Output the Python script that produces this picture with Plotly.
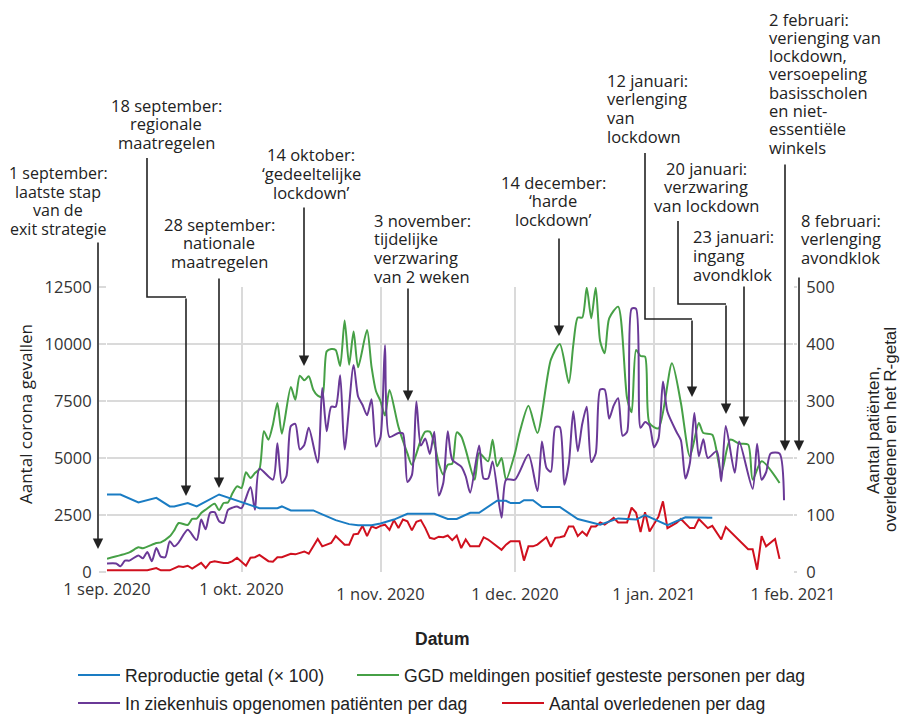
import plotly.graph_objects as go
import pandas as pd

START = pd.Timestamp("2020-09-01")

# ---- data (day offset from 1 Sep 2020, value) ----
# Reproductie getal x 100 (right axis)
r_days = [0, 3, 7, 11, 14, 15, 18, 20, 25, 34,
          38, 39, 41, 46, 48, 51, 54, 56, 59, 61,
          64, 67, 73, 76, 78, 81, 83, 87, 89, 90,
          92, 93, 95, 97, 101, 105, 110, 113, 114, 118,
          120, 125, 129, 135]
r_vals = [136, 136, 122, 130, 115, 115, 121, 115, 136, 112,
          112, 115, 108, 108, 101, 91, 84, 82, 82, 85,
          92, 102, 102, 93, 93, 104, 104, 125, 125, 121,
          121, 126, 126, 114, 114, 93, 83, 92, 94, 92,
          100, 82, 96, 95]

# GGD meldingen positief geteste personen per dag (left axis)
ggd_days = [0, 5, 7, 8, 11, 12, 14, 15, 16, 18,
            19, 20, 21, 22, 24, 25, 26, 27, 28, 29,
            30, 31, 32, 33, 34, 35, 36, 37, 38, 39,
            41, 42, 43, 44, 45, 46, 47, 48, 49, 50,
            51, 52, 53, 54, 55, 56, 58, 59, 60, 61,
            62, 63, 65, 67, 68, 70, 71, 72, 73, 74,
            75, 76, 77, 78, 79, 80, 82, 83, 85, 86,
            87, 88, 89, 91, 92, 94, 96, 99, 101, 103,
            104, 105, 106, 107, 108, 109, 110, 111, 112, 114,
            116, 117, 118, 119, 120, 121, 123, 126, 128, 130,
            132, 133, 135, 137, 139, 141, 143, 144, 146, 150]
ggd_vals = [585, 863, 1082, 1038, 1272, 1301, 1564, 1828, 2149, 2061,
            2325, 2340, 2588, 2734, 2997, 2705, 3026, 3055, 3465, 3757,
            3684, 4371, 4123, 4342, 4518, 6170, 5804, 6462, 7412, 6067,
            8114, 7558, 8611, 8406, 8582, 7997, 7734, 7676, 9678, 9780,
            9737, 9035, 11027, 9088, 10546, 8977, 10610, 9000, 7930, 7493,
            6861, 7983, 6370, 5200, 4700, 5790, 6155, 6155, 5643, 4750,
            4269, 4708, 4750, 6126, 5950, 5366, 4050, 5219, 4854, 5804,
            4635, 5000, 4050, 5219, 6097, 7295, 6097, 9313, 10000, 8290,
            9960, 11160, 11160, 12470, 11126, 12470, 10107, 9590, 11126, 11638,
            7618, 7004, 9737, 9474, 9444, 6522, 6302, 9152, 7412, 5073,
            6535, 6097, 6023, 4342, 5804, 5629, 5585, 4050, 4854, 3903]

# In ziekenhuis opgenomen patienten per dag (right axis)
zkh_days = [0, 2, 3, 4, 5, 7, 8, 9, 10, 11,
            12, 13, 14, 15, 16, 18, 20, 21, 22, 23,
            24, 25, 26, 27, 28, 29, 30, 32, 33, 34,
            37, 38, 39, 40, 41, 42, 43, 44, 45, 47,
            48, 49, 50, 51, 52, 53, 55, 56, 57, 58,
            59, 60, 61, 62, 63, 65, 66, 67, 68, 69,
            70, 71, 72, 73, 74, 75, 76, 77, 79, 80,
            81, 83, 84, 85, 86, 88, 89, 91, 94, 96,
            97, 98, 99, 100, 101, 102, 103, 104, 105, 106,
            107, 108, 109, 110, 111, 112, 113, 114, 115, 116,
            117, 118, 119, 120, 121, 122, 123, 124, 125, 127,
            128, 129, 130, 131, 132, 133, 134, 136, 137, 138,
            140, 141, 144, 145, 146, 147, 148, 150, 151]
zkh_vals = [15, 15, 10, 20, 20, 29, 24, 35, 19, 42,
            27, 26, 54, 45, 52, 74, 56, 92, 75, 104,
            105, 89, 86, 109, 113, 115, 112, 149, 109, 181,
            162, 226, 156, 168, 256, 260, 215, 223, 253, 192,
            323, 247, 290, 290, 345, 215, 363, 308, 293, 275,
            303, 220, 237, 398, 237, 244, 243, 158, 170, 299,
            222, 234, 207, 246, 134, 156, 247, 197, 185, 168,
            139, 222, 164, 164, 194, 95, 162, 162, 206, 142,
            229, 183, 176, 254, 254, 153, 190, 282, 212, 260,
            290, 193, 208, 320, 320, 269, 292, 305, 239, 246,
            462, 462, 253, 263, 257, 219, 234, 334, 281, 246,
            231, 164, 191, 279, 203, 233, 200, 212, 159, 256,
            174, 229, 146, 225, 162, 175, 208, 208, 126]

# Aantal overledenen per dag (right axis)
ovl_days = [0, 9, 11, 12, 14, 16, 17, 18, 19, 21,
            22, 23, 24, 26, 27, 28, 29, 31, 32, 33,
            34, 36, 37, 38, 39, 41, 42, 44, 45, 47,
            48, 50, 51, 53, 54, 55, 56, 57, 58, 59,
            60, 61, 62, 63, 64, 65, 66, 67, 68, 69,
            70, 71, 72, 73, 74, 75, 76, 77, 78, 79,
            80, 81, 83, 84, 85, 86, 88, 89, 90, 92,
            93, 94, 95, 96, 98, 99, 100, 101, 102, 103,
            104, 105, 106, 107, 108, 109, 110, 111, 113, 114,
            116, 117, 118, 119, 120, 121, 123, 124, 125, 127,
            128, 130, 131, 132, 134, 135, 137, 138, 143, 144,
            145, 146, 147, 149, 150]
ovl_vals = [3, 3, 7, 3, 3, 10, 9, 11, 6, 16,
            7, 17, 19, 16, 16, 19, 25, 11, 25, 26,
            30, 19, 18, 26, 26, 32, 31, 36, 32, 58,
            45, 51, 63, 48, 48, 66, 67, 81, 63, 80,
            77, 81, 83, 74, 91, 77, 92, 89, 73, 88,
            91, 77, 60, 58, 62, 61, 64, 56, 64, 42,
            57, 45, 45, 61, 57, 51, 39, 48, 54, 54,
            20, 45, 45, 48, 61, 44, 60, 61, 63, 80,
            80, 63, 71, 64, 80, 80, 87, 83, 95, 87,
            87, 113, 104, 70, 105, 71, 97, 124, 77, 86,
            93, 77, 77, 93, 77, 81, 57, 79, 40, 40,
            4, 63, 45, 58, 23]

tick_dates = ["2020-09-01", "2020-10-01", "2020-11-01", "2020-12-01", "2021-01-01", "2021-02-01"]
tick_text = ["1 sep. 2020", "1 okt. 2020", "1 nov. 2020", "1 dec. 2020", "1 jan. 2021", "1 feb. 2021"]
left_ticks = [0, 2500, 5000, 7500, 10000, 12500]
right_ticks = [0, 100, 200, 300, 400, 500]

names = ["Reproductie getal (× 100)",
         "GGD meldingen positief gesteste personen per dag",
         "In ziekenhuis opgenomen patiënten per dag",
         "Aantal overledenen per dag"]
colors = ["#1a7cc3", "#46a046", "#6a3997", "#d0101e"]

callouts = [
    dict(lines=["1 september:", "laatste stap", "van de", "exit strategie"], x=58, anchor="center", y0=173,
         path=[(98, 241)], tip=(98, 549), size=16),
    dict(lines=["18 september:", "regionale", "maatregelen"], x=166, anchor="center", y0=105,
         path=[(147, 158), (147, 297), (186, 297)], tip=(186, 496)),
    dict(lines=["28 september:", "nationale", "maatregelen"], x=219, anchor="center", y0=224,
         path=[(219, 277)], tip=(219, 488)),
    dict(lines=["14 oktober:", "‘gedeeltelijke", "lockdown’"], x=311, anchor="center", y0=155,
         path=[(304, 206)], tip=(304, 366)),
    dict(lines=["3 november:", "tijdelijke", "verzwaring", "van 2 weken"], x=372, anchor="left", y0=220,
         path=[(408, 287)], tip=(408, 401)),
    dict(lines=["14 december:", "‘harde", "lockdown’"], x=553, anchor="center", y0=182,
         path=[(559, 237)], tip=(559, 336)),
    dict(lines=["12 januari:", "verlenging", "van", "lockdown"], x=605, anchor="left", y0=80,
         path=[(645, 153), (645, 319), (692, 319)], tip=(692, 397)),
    dict(lines=["20 januari:", "verzwaring", "van lockdown"], x=706, anchor="center", y0=168,
         path=[(678, 221), (678, 304), (726, 304)], tip=(726, 414)),
    dict(lines=["23 januari:", "ingang", "avondklok"], x=691, anchor="left", y0=237,
         path=[(744, 285)], tip=(744, 427)),
    dict(lines=["2 februari:", "verienging van", "lockdown,", "versoepeling", "basisscholen",
                "en niet-", "essentiële", "winkels"], x=767, anchor="left", y0=19, ls=18.3,
         path=[(785, 163)], tip=(785, 451)),
    dict(lines=["8 februari:", "verlenging", "avondklok"], x=799, anchor="left", y0=220,
         path=[(799, 276)], tip=(799, 451)),
]

# ---- layout geometry (page shows the figure offset by the 8px body margin) ----
OFF = 8
W, H = 909 - OFF, 717 - OFF
PW, PH = 686, 285
ML, MT = 107 - OFF, 287 - OFF
MR, MB = W - ML - PW, H - MT - PH


def fx(px):
    return (px - OFF - ML) / PW


def fy(py):
    return (H - MB - (py - OFF)) / PH


def to_dates(days):
    return [(START + pd.Timedelta(days=int(d))).strftime("%Y-%m-%d") for d in days]


FONT = "Open Sans"
TXT = "#222222"
GRID = "#dadada"

fig = go.Figure()
series = [
    (r_days, r_vals, "x2", "y2", "legend", "linear"),
    (ggd_days, ggd_vals, "x", "y", "legend2", "spline"),
    (zkh_days, zkh_vals, "x", "y2", "legend3", "spline"),
    (ovl_days, ovl_vals, "x", "y2", "legend4", "linear"),
]
for (d, v, xa, ya, lg, shp), nm, col in zip(series, names, colors):
    line = dict(color=col, width=2, shape=shp)
    if shp == "spline":
        line["smoothing"] = 0.7
    fig.add_trace(go.Scatter(x=to_dates(d), y=v, mode="lines", name=nm, xaxis=xa, yaxis=ya,
                             legend=lg, line=line, hoverinfo="skip"))

# callout texts and arrows
annotations = []
shapes = []
for c in callouts:
    ls = c.get("ls", 18.7)
    for i, t in enumerate(c["lines"]):
        annotations.append(dict(x=fx(c["x"]), y=fy(c["y0"] + i * ls), xref="paper", yref="paper",
                                text=t, showarrow=False, xanchor=c["anchor"], yanchor="middle",
                                font=dict(family=FONT, size=c.get("size", 16.5), color=TXT)))
    pts = c["path"]
    if len(pts) > 1:
        d = "M " + " L ".join(f"{fx(px)},{fy(py)}" for px, py in pts)
        shapes.append(dict(type="path", path=d, xref="paper", yref="paper",
                           line=dict(color=TXT, width=1.6)))
    sx, sy = pts[-1]
    tx, ty = c["tip"]
    annotations.append(dict(x=fx(tx), y=fy(ty), xref="paper", yref="paper", text="",
                            showarrow=True, ax=0, ay=sy - ty, axref="pixel", ayref="pixel",
                            arrowhead=2, arrowsize=1.3, arrowwidth=1.6, arrowcolor=TXT,
                            standoff=0, startstandoff=0))

# axis titles
annotations.append(dict(x=fx(25), y=fy(414), xref="paper", yref="paper", text="Aantal corona gevallen",
                        textangle=-90, showarrow=False, xanchor="center", yanchor="middle",
                        font=dict(family=FONT, size=17, color=TXT)))
for t, px in [("Aantal patiënten,", 873), ("overledenen en het R-getal", 890)]:
    annotations.append(dict(x=fx(px), y=fy(430), xref="paper", yref="paper", text=t,
                            textangle=-90, showarrow=False, xanchor="center", yanchor="middle",
                            font=dict(family="Liberation Sans", size=17, color=TXT)))
annotations.append(dict(x=fx(442), y=fy(639), xref="paper", yref="paper", text="<b>Datum</b>",
                        showarrow=False, xanchor="center", yanchor="middle",
                        font=dict(family="Liberation Sans", size=17.5, color=TXT)))

tickfont = dict(family=FONT, size=16.5, color="#333333")
leg_font = dict(family="Liberation Sans", size=17.6, color=TXT)


def legend_at(px, py):
    return dict(x=fx(px), y=fy(py), xanchor="left", yanchor="middle", orientation="h",
                font=leg_font, itemwidth=42, bgcolor="rgba(0,0,0,0)", borderwidth=0)


xcommon = dict(type="date", range=["2020-09-01", "2021-02-01"], showgrid=True, gridcolor=GRID,
               gridwidth=1.5, zeroline=False, showline=False, ticks="", tickfont=tickfont)

fig.update_layout(
    width=W, height=H,
    margin=dict(l=ML, r=MR, t=MT, b=MB, autoexpand=False),
    paper_bgcolor="white", plot_bgcolor="white",
    showlegend=True,
    legend=legend_at(73, 675),
    legend2=legend_at(352, 675),
    legend3=legend_at(73, 703),
    legend4=legend_at(497, 703),
    xaxis=dict(**xcommon, tickvals=tick_dates[2:], ticktext=tick_text[2:], ticklabelstandoff=10),
    xaxis2=dict(**xcommon, tickvals=tick_dates[:2], ticktext=tick_text[:2], ticklabelstandoff=5,
                overlaying="x", anchor="y2", side="bottom"),
    yaxis=dict(range=[0, 12500], tickvals=left_ticks, ticktext=[str(v) for v in left_ticks],
               showgrid=True, gridcolor=GRID, gridwidth=1.5, zeroline=False, showline=False,
               ticks="outside", ticklen=7, tickcolor=GRID, tickwidth=1.5,
               tickfont=tickfont, ticklabelstandoff=4),
    yaxis2=dict(range=[0, 500], tickvals=right_ticks, ticktext=[str(v) for v in right_ticks],
                overlaying="y", side="right", showgrid=False, zeroline=False, showline=False,
                ticks="outside", ticklen=3, tickcolor=GRID, tickwidth=1.5,
                tickfont=tickfont, ticklabelstandoff=6),
    annotations=annotations,
    shapes=shapes,
)

fig.write_html("out.html")
